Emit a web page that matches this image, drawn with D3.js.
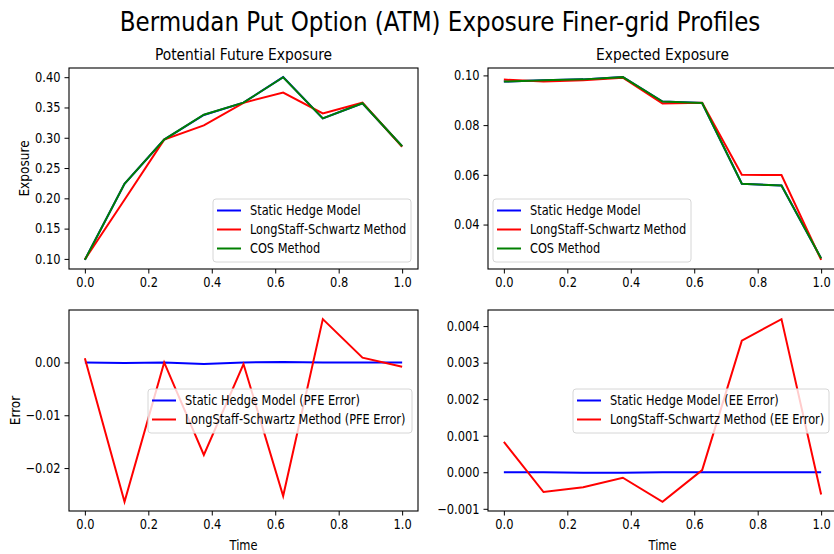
<!DOCTYPE html>
<html>
<head>
<meta charset="utf-8">
<script src="https://cdn.jsdelivr.net/npm/d3@7"></script>
<style>
  body { margin: 0; background: #fff; }
  svg text { font-family: "DejaVu Sans", sans-serif; font-stretch: condensed; fill: #000; }
</style>
</head>
<body>
<svg id="chart" width="834" height="554"></svg>
<script>
// time grid
var time = [0, 0.125, 0.25, 0.375, 0.5, 0.625, 0.75, 0.875, 1.0];

// potential future exposure
var pfeStatic = [0.0984, 0.2239, 0.2970, 0.3377, 0.3580, 0.4001, 0.3320, 0.3570, 0.2860];
var pfeLsm    = [0.0992, 0.1976, 0.2970, 0.3205, 0.3577, 0.3747, 0.3402, 0.3579, 0.2852];
var pfeCos    = [0.0984, 0.2240, 0.2970, 0.3380, 0.3580, 0.4000, 0.3320, 0.3570, 0.2860];

// expected exposure
var eeStatic = [0.0975, 0.0980, 0.0984, 0.0993, 0.0895, 0.0889, 0.0564, 0.0557, 0.0264];
var eeLsm    = [0.0983, 0.0975, 0.0980, 0.0991, 0.0887, 0.0890, 0.0600, 0.0599, 0.0258];
var eeCos    = [0.0975, 0.0980, 0.0984, 0.0993, 0.0895, 0.0889, 0.0564, 0.0557, 0.0264];

// errors
var pfeErrStatic = [0.0, -0.0001, 0.0, -0.0003, 0.0, 0.0001, 0.0, 0.0, 0.0];
var pfeErrLsm    = [0.0008, -0.0264, 0.0, -0.0175, -0.0003, -0.0253, 0.0082, 0.0009, -0.0008];
var eeErrStatic  = [0.0, 0.0, -0.00001, -0.00001, 0.0, 0.0, 0.0, 0.0, 0.0];
var eeErrLsm     = [0.00083, -0.00054, -0.00041, -0.00015, -0.00081, 0.00006, 0.0036, 0.00419, -0.00061];

// ticks
var xTicks = [0, 0.2, 0.4, 0.6, 0.8, 1.0];
var pfeTicks = [0.10, 0.15, 0.20, 0.25, 0.30, 0.35, 0.40];
var eeTicks = [0.04, 0.06, 0.08, 0.10];
var pfeErrTicks = [-0.02, -0.01, 0.00];
var eeErrTicks = [-0.001, 0.000, 0.001, 0.002, 0.003, 0.004];

var svg = d3.select("#chart");
var fs = 13.5;

// the picture is a bit squeezed sideways, so shrink text widths to fit
function squeeze(sel, k) {
    sel.each(function() {
        var l = this.getComputedTextLength();
        d3.select(this).attr("textLength", l * k).attr("lengthAdjust", "spacingAndGlyphs");
    });
}

svg.append("text")
    .attr("x", 440).attr("y", 31)
    .attr("text-anchor", "middle")
    .style("font-size", "27px")
    .text("Bermudan Put Option (ATM) Exposure Finer-grid Profiles")
    .call(squeeze, 0.948);

function panel(box, series, yTicks, yFmt, opts) {
    var x = d3.scaleLinear().domain([-0.05, 1.05]).range([box.x0, box.x1]);
    var all = [].concat.apply([], series.map(s => s.values));
    var lo = d3.min(all), hi = d3.max(all), pad = (hi - lo) * 0.05;
    var y = d3.scaleLinear().domain([lo - pad, hi + pad]).range([box.y1, box.y0]);

    var g = svg.append("g");

    var line = d3.line().x((d, i) => x(time[i])).y(d => y(d));
    series.forEach(s => {
        g.append("path")
            .attr("d", line(s.values))
            .attr("fill", "none")
            .attr("stroke", s.color)
            .attr("stroke-width", 2);
    });

    var xa = g.append("g")
        .attr("transform", "translate(0," + box.y1 + ")")
        .call(d3.axisBottom(x).tickValues(xTicks).tickFormat(d3.format(".1f")).tickSize(4.5).tickSizeOuter(0).tickPadding(4));
    var ya = g.append("g")
        .attr("transform", "translate(" + box.x0 + ",0)")
        .call(d3.axisLeft(y).tickValues(yTicks).tickFormat(d3.format(yFmt)).tickSize(4.5).tickSizeOuter(0).tickPadding(4));
    [xa, ya].forEach(a => {
        a.select(".domain").remove();
        a.selectAll("text").style("font-size", fs + "px").attr("fill", "#000").call(squeeze, 0.94);
        a.selectAll("line").attr("stroke", "#000");
    });

    g.append("rect")
        .attr("x", box.x0).attr("y", box.y0)
        .attr("width", box.x1 - box.x0).attr("height", box.y1 - box.y0)
        .attr("fill", "none").attr("stroke", "#000").attr("stroke-width", 1.1);

    if (opts.title) {
        g.append("text")
            .attr("x", (box.x0 + box.x1) / 2).attr("y", box.y0 - 8)
            .attr("text-anchor", "middle")
            .style("font-size", "16px")
            .text(opts.title)
            .call(squeeze, 0.96);
    }
    if (opts.xlabel) {
        g.append("text")
            .attr("x", (box.x0 + box.x1) / 2).attr("y", box.y1 + 39)
            .attr("text-anchor", "middle")
            .style("font-size", fs + "px")
            .text(opts.xlabel)
            .call(squeeze, 0.94);
    }
    if (opts.ylabel) {
        g.append("text")
            .attr("transform", "translate(" + opts.ylabelX + "," + (box.y0 + box.y1) / 2 + ") rotate(-90)")
            .attr("text-anchor", "middle")
            .attr("dy", "0.35em")
            .style("font-size", fs + "px")
            .text(opts.ylabel);
    }

    // legend
    var L = opts.legend;
    var lg = g.append("g");
    lg.append("rect")
        .attr("x", L.x).attr("y", L.y).attr("width", L.w).attr("height", series.length * 19 + 6)
        .attr("rx", 3)
        .attr("fill", "#fff").attr("fill-opacity", 0.8)
        .attr("stroke", "#d6d6d6").attr("stroke-width", 1);
    series.forEach((s, i) => {
        var cy = L.y + 11.5 + i * 19;
        lg.append("line")
            .attr("x1", L.x + 4).attr("x2", L.x + 28)
            .attr("y1", cy).attr("y2", cy)
            .attr("stroke", s.color).attr("stroke-width", 2);
        lg.append("text")
            .attr("x", L.x + 37).attr("y", cy).attr("dy", "0.35em")
            .style("font-size", fs + "px")
            .text(s.name)
            .call(squeeze, 0.935);
    });
}

panel({x0: 69, x1: 418, y0: 68, y1: 269}, [
    {name: "Static Hedge Model", values: pfeStatic, color: "blue"},
    {name: "LongStaff-Schwartz Method", values: pfeLsm, color: "red"},
    {name: "COS Method", values: pfeCos, color: "green"}
], pfeTicks, ".2f", {title: "Potential Future Exposure", ylabel: "Exposure", ylabelX: 24,
    legend: {x: 213, y: 199, w: 198}});

panel({x0: 488, x1: 837, y0: 68, y1: 269}, [
    {name: "Static Hedge Model", values: eeStatic, color: "blue"},
    {name: "LongStaff-Schwartz Method", values: eeLsm, color: "red"},
    {name: "COS Method", values: eeCos, color: "green"}
], eeTicks, ".2f", {title: "Expected Exposure",
    legend: {x: 493, y: 199, w: 198}});

panel({x0: 69, x1: 418, y0: 310, y1: 511}, [
    {name: "Static Hedge Model (PFE Error)", values: pfeErrStatic, color: "blue"},
    {name: "LongStaff-Schwartz Method (PFE Error)", values: pfeErrLsm, color: "red"}
], pfeErrTicks, ".2f", {xlabel: "Time", ylabel: "Error", ylabelX: 15,
    legend: {x: 148, y: 389, w: 264}});

panel({x0: 488, x1: 837, y0: 310, y1: 511}, [
    {name: "Static Hedge Model (EE Error)", values: eeErrStatic, color: "blue"},
    {name: "LongStaff-Schwartz Method (EE Error)", values: eeErrLsm, color: "red"}
], eeErrTicks, ".3f", {xlabel: "Time",
    legend: {x: 573, y: 389, w: 256}});
</script>
</body>
</html>
